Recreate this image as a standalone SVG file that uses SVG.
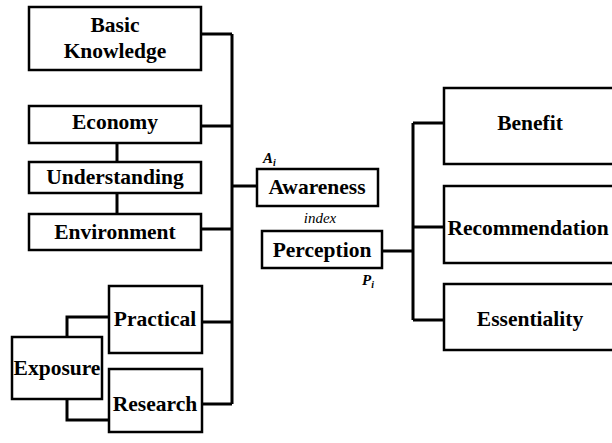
<svg xmlns="http://www.w3.org/2000/svg" width="612" height="443" viewBox="0 0 612 443">
<style>
.box{fill:#fff;stroke:#000;stroke-width:2.5}
.t{font-family:'Liberation Serif','Times New Roman','DejaVu Serif',serif;font-weight:bold;font-size:21.5px;text-anchor:middle;fill:#000}
.s{font-family:'Liberation Serif','Times New Roman','DejaVu Serif',serif;font-style:italic;font-size:15px;fill:#000}
.c{fill:none;stroke:#000;stroke-width:3}
</style>
<rect width="612" height="443" fill="#fff"/>
<g id="connectors">
<path class="c" d="M201 34H232M201 126H232M201 229H232M202 322H232M202 404H232M232 34V404M232 186H257"/>
<path class="c" d="M117 143V162M117 193V214"/>
<path class="c" d="M67 337V317H109M67 399V420H109"/>
<path class="c" d="M382 251H413M413 123V320M413 123H444M413 227H444M413 320H444"/>
</g>
<g id="basic"><rect class="box" x="29" y="7" width="172" height="63"/><text class="t" x="115" y="32">Basic</text><text class="t" x="115" y="58">Knowledge</text></g>
<g id="economy"><rect class="box" x="29" y="106" width="172" height="37"/><text class="t" x="115" y="129">Economy</text></g>
<g id="understanding"><rect class="box" x="29" y="162" width="172" height="31"/><text class="t" x="115" y="184">Understanding</text></g>
<g id="environment"><rect class="box" x="29" y="214" width="172" height="36"/><text class="t" x="115" y="239">Environment</text></g>
<g id="practical"><rect class="box" x="109" y="286" width="93" height="67"/><text class="t" x="155" y="326">Practical</text></g>
<g id="research"><rect class="box" x="109" y="369" width="93" height="63"/><text class="t" x="155" y="411">Research</text></g>
<g id="exposure"><rect class="box" x="12" y="337" width="90" height="62"/><text class="t" x="57" y="375">Exposure</text></g>
<g id="awareness"><rect class="box" x="257" y="169" width="121" height="37"/><text class="t" x="317" y="194">Awareness</text></g>
<g id="perception"><rect class="box" x="262" y="231" width="120" height="37"/><text class="t" x="322" y="257">Perception</text></g>
<g id="labels">
<text class="s" x="263" y="163" font-weight="bold">A<tspan font-size="10" dy="3">i</tspan></text>
<text class="s" x="320" y="223" text-anchor="middle">index</text>
<text class="s" x="362" y="285" font-weight="bold">P<tspan font-size="10" dy="3">i</tspan></text>
</g>
<g id="benefit"><rect class="box" x="444" y="88" width="180" height="76"/><text class="t" x="530" y="130">Benefit</text></g>
<g id="recommendation"><rect class="box" x="444" y="186" width="180" height="77"/><text class="t" x="528" y="235">Recommendation</text></g>
<g id="essentiality"><rect class="box" x="444" y="284" width="180" height="66"/><text class="t" x="530" y="326">Essentiality</text></g>
</svg>
